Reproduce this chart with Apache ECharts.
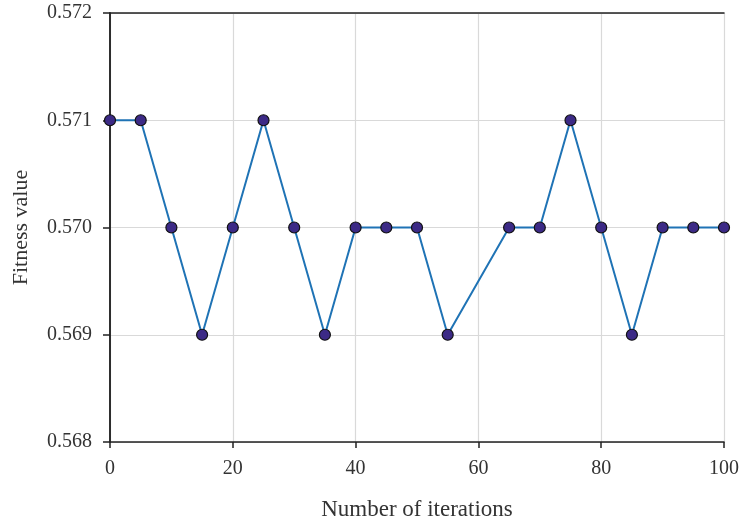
<!DOCTYPE html>
<html><head><meta charset="utf-8">
<script src="https://cdn.jsdelivr.net/npm/echarts@6/dist/echarts.min.js"></script>
<style>html,body{margin:0;padding:0;background:#fff}#c{width:739px;height:522px}</style>
</head><body><div id="c"></div>
<script>
const iterations = [0,5,10,15,20,25,30,35,40,45,50,55,65,70,75,80,85,90,95,100];
const fitness = [0.571,0.571,0.570,0.569,0.570,0.571,0.570,0.569,0.570,0.570,0.570,0.569,0.570,0.570,0.571,0.570,0.569,0.570,0.570,0.570];
const xTitle = 'Number of iterations';
const yTitle = 'Fitness value';
const font = 'Liberation Serif';
const chart = echarts.init(document.getElementById('c'));
const frame = {show:true,lineStyle:{color:'#222',width:1.5}};
chart.setOption({
  animation:false,
  backgroundColor:'#fff',
  grid:{left:110,right:15,top:13,bottom:80,containLabel:false,outerBoundsMode:'none'},
  xAxis:[{type:'value',min:0,max:100,interval:20,
    name:xTitle,nameLocation:'middle',nameGap:56,
    nameTextStyle:{fontFamily:font,fontSize:23,color:'#333'},
    axisLine:frame,
    axisTick:{show:true,length:6,lineStyle:{color:'#222',width:1.5}},
    axisLabel:{fontFamily:font,fontSize:20,color:'#333',margin:17},
    splitLine:{show:true,lineStyle:{color:'#d9d9d9',width:1.2}}},
    {type:'value',position:'top',min:0,max:100,axisLine:frame,axisTick:{show:false},axisLabel:{show:false},splitLine:{show:false}}],
  yAxis:[{type:'value',min:0.568,max:0.572,interval:0.001,
    name:yTitle,nameLocation:'middle',nameGap:78,
    nameTextStyle:{fontFamily:font,fontSize:22,color:'#333'},
    axisLine:frame,
    axisTick:{show:true,length:7,lineStyle:{color:'#222',width:1.5}},
    axisLabel:{fontFamily:font,fontSize:20,color:'#333',margin:18,formatter:v=>v.toFixed(3)},
    splitLine:{show:true,lineStyle:{color:'#d9d9d9',width:1.2}}},
    {type:'value',position:'right',min:0.568,max:0.572,axisLine:frame,axisTick:{show:false},axisLabel:{show:false},splitLine:{show:false}}],
  series:[{type:'line',data:iterations.map((x,i)=>[x,fitness[i]]),
    symbol:'circle',symbolSize:11,
    lineStyle:{color:'#1f73b5',width:2},
    itemStyle:{color:'#3c2a86',borderColor:'#111',borderWidth:1.2}}]
});
</script></body></html>
